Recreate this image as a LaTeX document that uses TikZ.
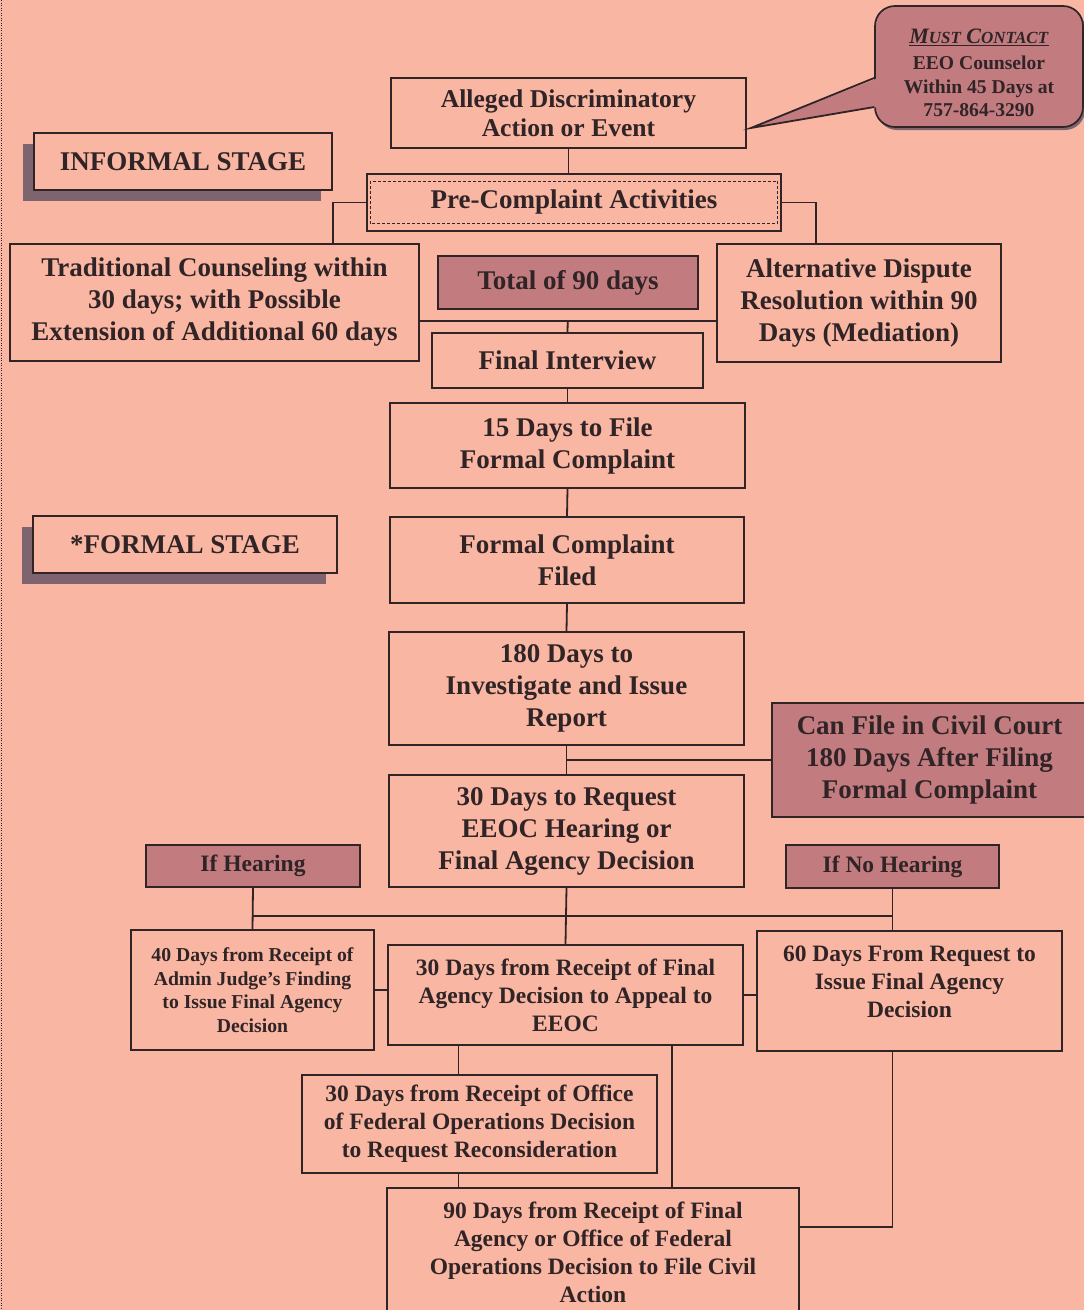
\documentclass[tikz,border=0pt]{standalone}
\usepackage{fontspec}
\setmainfont{Liberation Serif}
\usepackage{xcolor}
\usepackage{tikz}
\usetikzlibrary{positioning, shadows, calc}
\definecolor{fondrose}{RGB}{248,182,163}
\definecolor{mauve}{RGB}{194,124,128}
\definecolor{ombre}{RGB}{126,100,110}
\definecolor{trait}{RGB}{48,36,38}
\newcommand{\grand}{\fontsize{27}{32}\selectfont\bfseries}
\newcommand{\moyen}{\fontsize{23.5}{28}\selectfont\bfseries}
\newcommand{\petit}{\fontsize{19.7}{23.5}\selectfont\bfseries}
\newcommand{\bulletxt}{\fontsize{19.6}{22.5}\selectfont\bfseries}

\begin{document}
\begin{tikzpicture}[x=1pt, y=-1pt,
    boite/.style={rectangle, draw=trait, line width=1.7pt, fill=fondrose, text=trait,
        align=center, inner sep=0pt, font=\grand},
    sombre/.style={boite, fill=mauve},
    etape/.style={boite, line width=2pt,
        drop shadow={shadow xshift=-11pt, shadow yshift=-11pt, fill=ombre, opacity=1}},
    lien/.style={draw=trait, line width=1.8pt}]
    % Fond
    \path[use as bounding box, fill=fondrose] (0,0) rectangle (1084,1310);
    \draw[trait, line width=0.8pt, dash pattern=on 1pt off 1.5pt] (1,0) -- (1,1310);

    % Étape informelle
    \node[boite, minimum width=355pt, minimum height=70pt, font=\fontsize{25.6}{29}\selectfont\bfseries]
        (alleged) at (568.5,113) {Alleged Discriminatory\\Action or Event};
    \node[boite, rounded corners=20pt, fill=mauve, minimum width=208pt, minimum height=121pt,
        font=\bulletxt, drop shadow={shadow xshift=2pt, shadow yshift=-3pt, fill=ombre, opacity=1}]
        (bulle) at (979,66.5) {\rule{0pt}{27pt}\underline{\textit{\fontsize{22}{24}\selectfont M{\fontsize{17}{20}\selectfont UST} C{\fontsize{17}{20}\selectfont ONTACT}}}\\[4pt]
        EEO Counselor\\[1pt]Within 45 Days at\\[1pt]757-864-3290};
    \coordinate (pointe) at ([shift={(4,15)}]alleged.east);
    \fill[mauve] (pointe) -- ([shift={(4,11.5)}]bulle.west) -- ([shift={(4,40.5)}]bulle.west) -- cycle;
    \draw[lien, line join=miter] ([shift={(0,11.5)}]bulle.west) -- (pointe) -- ([shift={(0,40.5)}]bulle.west);

    \node[etape, minimum width=298pt, minimum height=57pt] (informel) at (183,161.5) {INFORMAL STAGE};
    \node[boite, minimum width=414pt, minimum height=57pt] (pre) at (574,202.5) {Pre-Complaint Activities};
    \draw[trait, line width=0.8pt, dash pattern=on 3pt off 2pt]
        ([shift={(4,8)}]pre.north west) rectangle ([shift={(-4,-8)}]pre.south east);
    \node[boite, minimum width=409pt, minimum height=117pt] (tradi) at (214.5,302.5)
        {Traditional Counseling within\\30 days; with Possible\\Extension of Additional 60 days};
    \node[sombre, minimum width=260pt, minimum height=53pt] (total) at (568,282.5) {Total of 90 days};
    \node[boite, minimum width=284pt, minimum height=118pt] (adr) at (859,303)
        {Alternative Dispute\\Resolution within 90\\Days (Mediation)};
    \node[boite, minimum width=271pt, minimum height=55pt] (interview) at (567.5,360.5) {Final Interview};
    \coordinate (carrefour) at ($(total.south)!0.5!(interview.north)$);

    \draw[lien] (alleged.south) -- (alleged.south |- pre.north);
    \draw[lien] (pre.west) -| (informel.east |- tradi.north);
    \draw[lien] (pre.east) -| ([xshift=100pt]adr.north west);
    \draw[lien] (tradi.east |- carrefour) -- (adr.west |- carrefour);
    \draw[lien] (carrefour) -- (interview.north);

    % Étape formelle
    \node[boite, minimum width=355pt, minimum height=85pt] (quinze) at (567.5,445.5)
        {15 Days to File\\Formal Complaint};
    \node[etape, minimum width=304pt, minimum height=57pt] (formel) at (185,544.5) {*FORMAL STAGE};
    \node[boite, minimum width=354pt, minimum height=86pt] (depose) at (567,560) {Formal Complaint\\Filed};
    \node[boite, minimum width=355pt, minimum height=113pt] (enquete) at (566.5,688.5)
        {180 Days to\\Investigate and Issue\\Report};
    \node[sombre, minimum width=315pt, minimum height=114pt] (civil) at (929.5,760)
        {Can File in Civil Court\\180 Days After Filing\\Formal Complaint};
    \node[boite, minimum width=355pt, minimum height=112pt] (audience) at (566.5,831)
        {30 Days to Request\\EEOC Hearing or\\Final Agency Decision};

    \draw[lien] (interview.south) -- (quinze.north);
    \draw[lien] (quinze.south) -- (depose.north);
    \draw[lien] (depose.south) -- (enquete.north);
    \draw[lien] (enquete.south) -- (audience.north);
    \draw[lien] (civil.west) -- (civil.west -| audience.north);

    % Suites possibles
    \node[sombre, minimum width=214pt, minimum height=42pt, font=\moyen] (sioui) at (253,866) {If Hearing};
    \node[sombre, minimum width=213pt, minimum height=43pt, font=\moyen] (sinon) at (892.5,866.5) {If No Hearing};
    \node[boite, minimum width=243pt, minimum height=120pt, font=\petit] (quarante) at (252.5,990)
        {40 Days from Receipt of\\Admin Judge's Finding\\to Issue Final Agency\\Decision};
    \node[boite, minimum width=355pt, minimum height=100pt, font=\moyen] (appel) at (565.5,995)
        {30 Days from Receipt of Final\\Agency Decision to Appeal to\\EEOC};
    \node[boite, minimum width=305pt, minimum height=120pt, font=\moyen] (soixante) at (909.5,991)
        {60 Days From Request to\\Issue Final Agency\\Decision\\[-10pt]};
    \node[boite, minimum width=355pt, minimum height=98pt, font=\moyen] (reexamen) at (479.5,1124)
        {30 Days from Receipt of Office\\of Federal Operations Decision\\to Request Reconsideration};
    \node[boite, minimum width=412pt, minimum height=128pt, font=\moyen] (civile) at (593,1252)
        {90 Days from Receipt of Final\\Agency or Office of Federal\\Operations Decision to File Civil\\Action};
    \coordinate (branche) at ($(audience.south)!0.5!(appel.north)$);

    \draw[lien] (sioui.south) -- (quarante.north);
    \draw[lien] (sioui.south |- branche) -- (sinon.south |- branche);
    \draw[lien] (audience.south) -- (appel.north);
    \draw[lien] (sinon.south) -- (sinon.south |- soixante.north);
    \draw[lien] (quarante.east) -- (quarante.east -| appel.west);
    \draw[lien] (appel.east) -- (appel.east -| soixante.west);
    \draw[lien] ([xshift=-21pt]reexamen.north) -- ([xshift=-21pt]reexamen.north |- appel.south);
    \draw[lien] ([xshift=-21pt]reexamen.south) -- ([xshift=-21pt]reexamen.south |- civile.north);
    \draw[lien] ([xshift=-72pt]appel.south east) -- ([xshift=-72pt]appel.south east |- civile.north);
    \draw[lien] (sinon.south |- soixante.south) |- ([yshift=-40pt]civile.north east);
\end{tikzpicture}
\end{document}
